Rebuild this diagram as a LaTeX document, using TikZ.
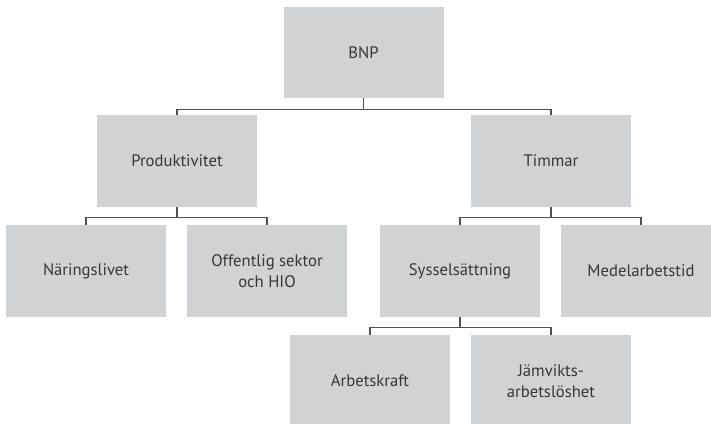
\documentclass[tikz,border=0pt]{standalone}
\usepackage{fontspec}
\setmainfont{PT Sans}
\usepackage{tikz}
\usetikzlibrary{positioning}
\definecolor{boxgray}{RGB}{209,210,212}
\definecolor{linegray}{RGB}{80,80,80}
\definecolor{textgray}{RGB}{55,55,55}
\tikzset{
  box/.style = {rectangle, fill=boxgray, text=textgray, inner sep=0pt,
    minimum width=120pt, minimum height=68.5pt, align=center,
    font=\fontsize{12.5}{15.5}\selectfont},
  bus/.style = {draw=linegray, line width=0.8pt}
}

\begin{document}
\begin{tikzpicture} [x=0.75pt, y=-0.75pt]
\useasboundingbox (0,0) rectangle (711,424);
\clip (0,0) rectangle (711,424);
\node[box](bnp) at (363.5,52.5){BNP};
\node[box](prod) at (177,161){Produktivitet};
\node[box](tim) at (551,161){Timmar};
\node[box](nar) at (86,271){Näringslivet};
\node[box](off) at (267,271){Offentlig sektor\\och HIO};
\node[box](syss) at (460,271){Sysselsättning};
\node[box](med) at (641,271){Medelarbetstid};
\node[box](arb) at (370,381){Arbetskraft};
\node[box](jam) at (551,381){Jämvikts-\\arbetslöshet};
\draw [bus](bnp.south) -- ++(0,11) -| (prod.north);
\draw [bus](bnp.south) -- ++(0,11) -| (tim.north);
\draw [bus](prod.south) -- ++(0,11) -| (nar.north);
\draw [bus](prod.south) -- ++(0,11) -| (off.north);
\draw [bus](tim.south) -- ++(0,11) -| (syss.north);
\draw [bus](tim.south) -- ++(0,11) -| (med.north);
\draw [bus](syss.south) -- ++(0,11) -| (arb.north);
\draw [bus](syss.south) -- ++(0,11) -| (jam.north);
\end{tikzpicture}
\end{document}
